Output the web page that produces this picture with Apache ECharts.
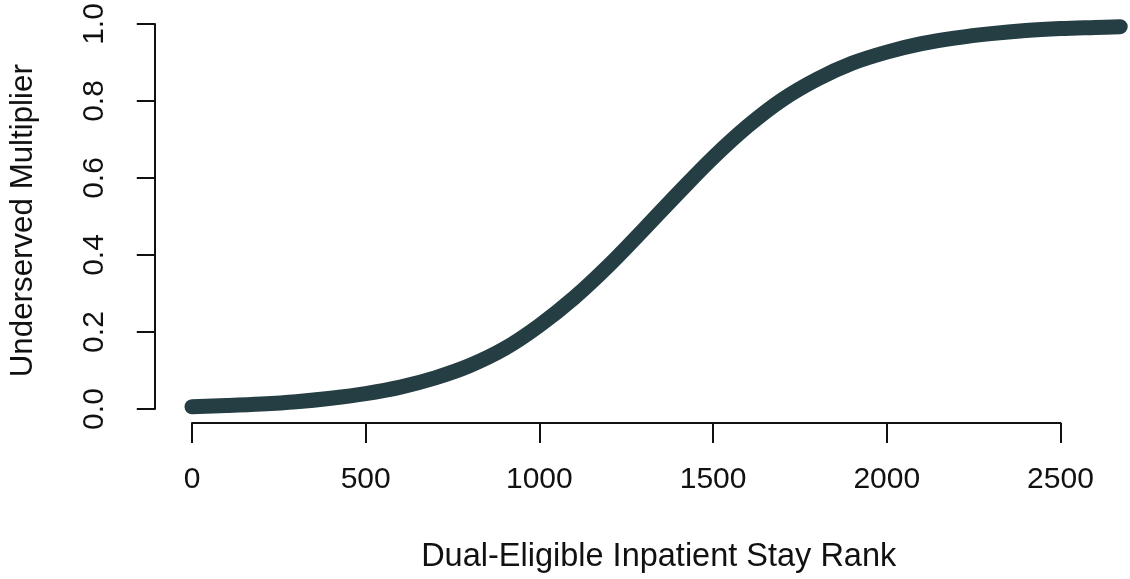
<!DOCTYPE html>
<html>
<head>
<meta charset="utf-8">
<script src="https://cdn.jsdelivr.net/npm/echarts@6/dist/echarts.min.js"></script>
<style>
html,body{margin:0;padding:0;background:#fff;}
#chart{width:1130px;height:579px;}
</style>
</head>
<body>
<div id="chart"></div>
<script>
// ---- data ----
const rank = [0, 100, 200, 300, 400, 500, 600, 700, 800, 900, 1000, 1100, 1200, 1300, 1400, 1500, 1600, 1700, 1800, 1900, 2000, 2100, 2200, 2300, 2400, 2500, 2600, 2672];
const multiplier = [0.006, 0.009, 0.013, 0.019, 0.028, 0.04, 0.057, 0.081, 0.113, 0.157, 0.217, 0.289, 0.373, 0.466, 0.561, 0.653, 0.735, 0.804, 0.857, 0.898, 0.927, 0.949, 0.964, 0.975, 0.983, 0.988, 0.991, 0.993];
const xTicks = [0, 500, 1000, 1500, 2000, 2500];
const yTicks = [0, 0.2, 0.4, 0.6, 0.8, 1.0];
const yTickLabels = ['0.0', '0.2', '0.4', '0.6', '0.8', '1.0'];
const xTitle = 'Dual-Eligible Inpatient Stay Rank';
const yTitle = 'Underserved Multiplier';

const FONT = 'Liberation Sans, Arial, Helvetica, sans-serif';
const ink = '#111';

// plot-region geometry (R style, data range padded by 4%)
const pxPerX = 0.3474;          // pixels per rank unit
const pxPerY = 385.05;          // pixels per multiplier unit
const xMin = -107, yMin = -0.036, yMax = 1.034;
const plotLeft = 154.8, plotTop = 10.9, plotH = (yMax - yMin) * pxPerY;
const canvasW = 1130;
const plotW = canvasW - plotLeft;           // keep grid inside the canvas
const xMax = xMin + plotW / pxPerX;
const fullPlotW = 1002.6;                    // R's full plot width (extends past the picture)

const chart = echarts.init(document.getElementById('chart'), null, {renderer: 'canvas'});

const option = {
  animation: false,
  backgroundColor: '#fff',
  grid: [
    {left: plotLeft, top: plotTop, width: plotW, height: plotH, containLabel: false},
    {left: plotLeft + (xTicks[0] - xMin) * pxPerX, top: plotTop,
     width: (xTicks[xTicks.length - 1] - xTicks[0]) * pxPerX, height: plotH, containLabel: false},
    {left: plotLeft, top: plotTop + (yMax - yTicks[yTicks.length - 1]) * pxPerY,
     width: 100, height: (yTicks[yTicks.length - 1] - yTicks[0]) * pxPerY, containLabel: false},
    {left: plotLeft + fullPlotW / 2 - 300, top: plotTop + 4, width: 600, height: plotH, containLabel: false}
  ],
  xAxis: [
    {gridIndex: 0, type: 'value', min: xMin, max: xMax, show: false},
    {gridIndex: 1, type: 'value', min: xTicks[0], max: xTicks[xTicks.length - 1], interval: 500,
     axisLine: {show: true, lineStyle: {color: ink, width: 2}},
     axisTick: {show: true, length: 20, lineStyle: {color: ink, width: 2}},
     axisLabel: {show: true, margin: 42, fontFamily: FONT, fontSize: 30, color: ink, lineHeight: 30,
       customValues: xTicks, formatter: v => String(v)},
     splitLine: {show: false}},
    {gridIndex: 2, type: 'value', show: false},
    {gridIndex: 3, type: 'value', min: 0, max: 1,
     axisLine: {show: false}, axisTick: {show: false}, axisLabel: {show: false}, splitLine: {show: false},
     name: xTitle, nameLocation: 'middle', nameGap: 115,
     nameTextStyle: {fontFamily: FONT, fontSize: 32.5, color: ink, lineHeight: 32}}
  ],
  yAxis: [
    {gridIndex: 0, type: 'value', min: yMin, max: yMax, show: false},
    {gridIndex: 1, type: 'value', show: false},
    {gridIndex: 2, type: 'value', min: yTicks[0], max: yTicks[yTicks.length - 1], interval: 0.2,
     axisLine: {show: true, lineStyle: {color: ink, width: 2}},
     axisTick: {show: true, length: 18, lineStyle: {color: ink, width: 2}},
     axisLabel: {show: true, rotate: 90, margin: 45, fontFamily: FONT, fontSize: 30, color: ink, lineHeight: 30,
       formatter: v => {
         const i = yTicks.findIndex(t => Math.abs(t - v) < 1e-9);
         return i >= 0 ? yTickLabels[i] : '';
       }},
     splitLine: {show: false}},
    {gridIndex: 3, type: 'value', min: 0, max: 1,
     axisLine: {show: false}, axisTick: {show: false}, axisLabel: {show: false}, splitLine: {show: false},
     name: yTitle, nameLocation: 'middle', nameRotate: 90,
     nameGap: 121 + (plotLeft + fullPlotW / 2 - 300 - plotLeft),
     nameTextStyle: {fontFamily: FONT, fontSize: 31.3, color: ink, lineHeight: 31}}
  ],
  series: [
    {type: 'line', xAxisIndex: 0, yAxisIndex: 0,
     data: rank.map((r, i) => [r, multiplier[i]]),
     showSymbol: false, symbol: 'none', smooth: 0.35, clip: false,
     lineStyle: {color: '#243e44', width: 15, cap: 'round', join: 'round'}}
  ]
};
chart.setOption(option);
</script>
</body>
</html>
